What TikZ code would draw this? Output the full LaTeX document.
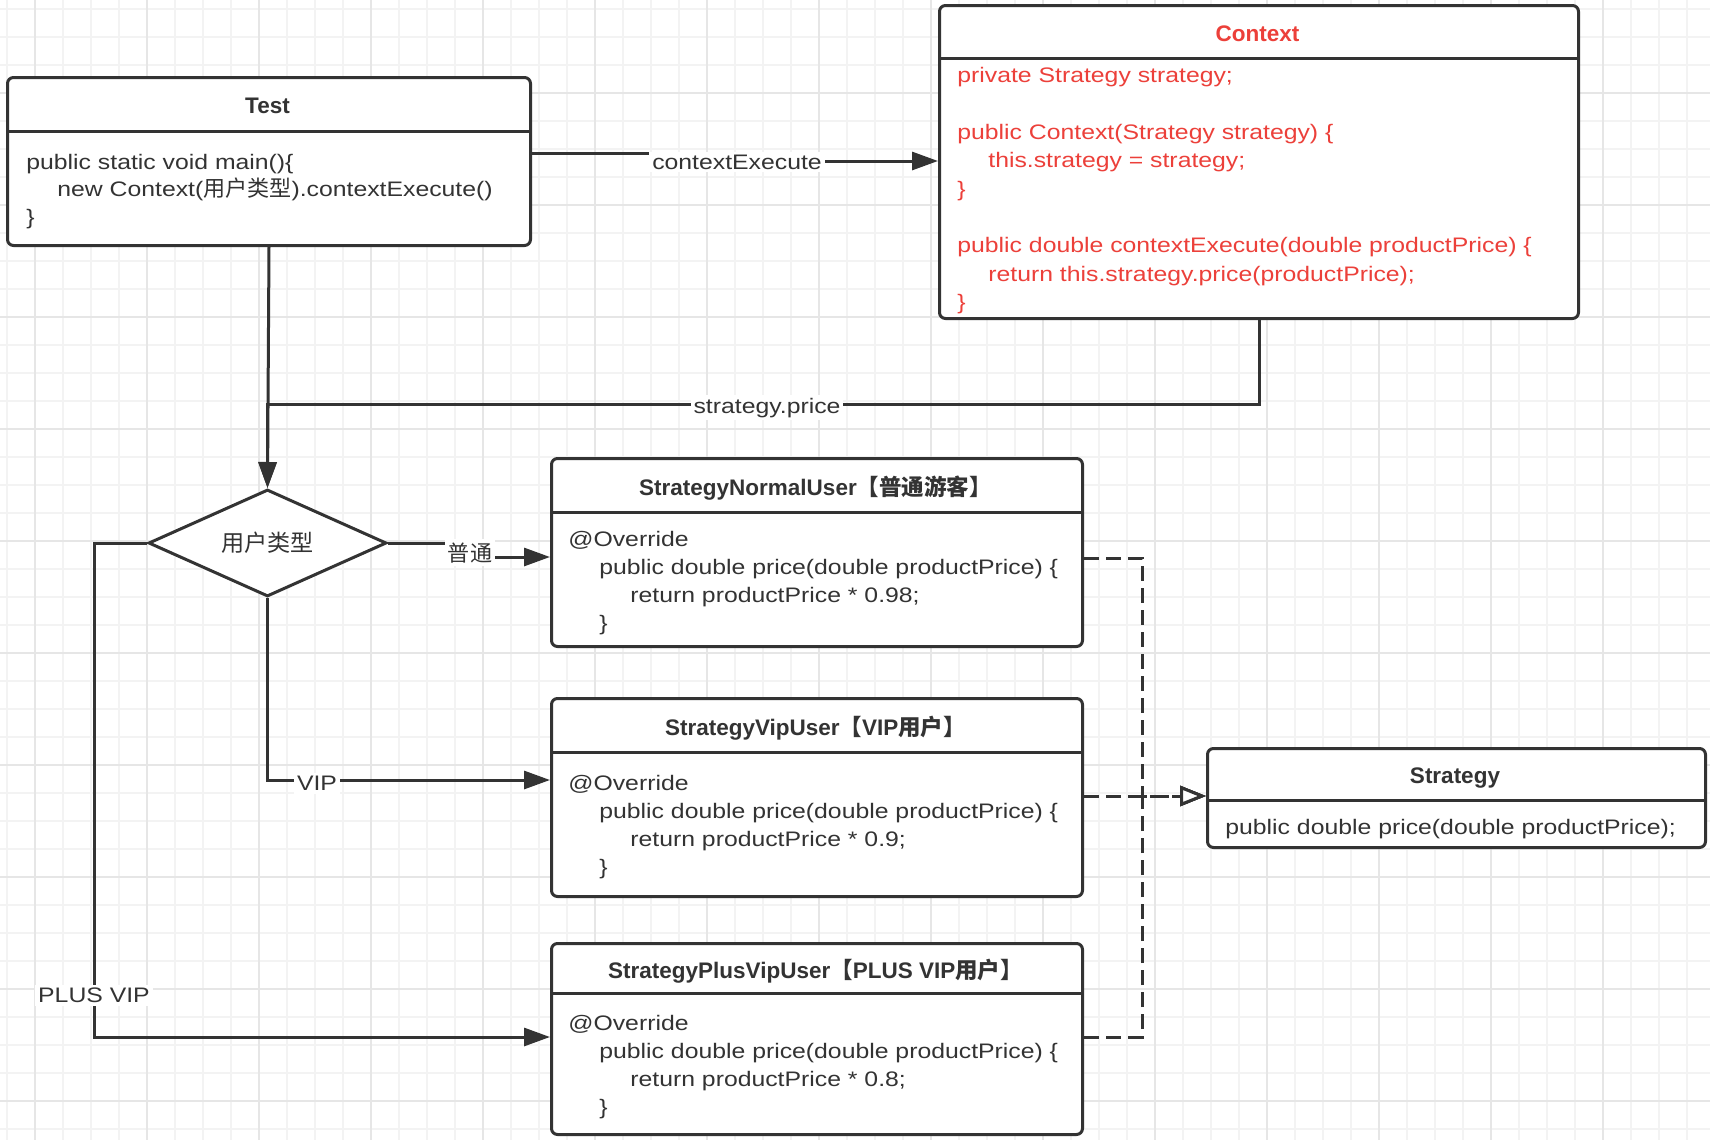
\documentclass[tikz,border=0pt]{standalone}
\usepackage{fontspec}
\setmainfont[FakeStretch=1.18]{Liberation Sans}
\newfontfamily\titlefont{Liberation Sans}
\newfontfamily\cjk[Scale=1.05]{Noto Sans CJK SC}
\newfontfamily\cjkt{Noto Sans CJK SC}
\usetikzlibrary{arrows.meta,shapes.geometric}
\newcommand{\zh}[1]{{\cjk #1}}
\newcommand{\zht}[1]{{\cjkt\bfseries #1}}
\definecolor{ink}{HTML}{333333}
\definecolor{redtxt}{HTML}{EC403A}
\definecolor{gridminor}{HTML}{F3F3F3}
\definecolor{gridmajor}{HTML}{E6E6E6}
\begin{document}
\begin{tikzpicture}[x=0.5pt,y=-0.5pt,
  gminor/.style={draw=gridminor, line width=0.6pt},
  gmajor/.style={draw=gridmajor, line width=0.7pt},
  box/.style={draw=ink, line width=1.5pt, fill=white, rounded corners=3pt, inner sep=0pt, anchor=north west},
  divline/.style={draw=ink, line width=1.5pt},
  title/.style={anchor=base, inner sep=0pt, text=ink, font=\titlefont\bfseries\fontsize{11.25pt}{13pt}\selectfont},
  body/.style={anchor=north west, inner sep=0pt, align=left, text=ink, font=\fontsize{10.5pt}{14pt}\selectfont},
  lbl/.style={anchor=base, fill=white, inner sep=1.5pt, text=ink, font=\fontsize{10.5pt}{13pt}\selectfont},
  decision/.style={diamond, draw=ink, line width=1.5pt, fill=white, minimum width=119pt, minimum height=53.5pt, aspect=2.22, inner sep=0pt, text=ink, font=\fontsize{11pt}{13pt}\selectfont},
  conn/.style={draw=ink, line width=1.5pt, -{Triangle[length=13pt,width=9pt]}},
  dconn/.style={draw=ink, line width=1.5pt, dash pattern=on 7.5pt off 3.5pt, -{Triangle[length=13pt,width=10pt,fill=white]}}
]
\useasboundingbox (0,0) rectangle (1710,1140);
\fill[white] (0,0) rectangle (1710,1140);
% grid
\foreach \i in {0,...,61} {\draw[gminor] ({7+28*\i},0) -- ({7+28*\i},1140);}
\foreach \i in {0,...,40} {\draw[gminor] (0,{9+28*\i}) -- (1710,{9+28*\i});}
\foreach \i in {0,...,15} {\draw[gmajor] ({35+112*\i},0) -- ({35+112*\i},1140);}
\foreach \i in {0,...,10} {\draw[gmajor] (0,{-19+112*\i}) -- (1710,{-19+112*\i});}

% Test
\node[box, minimum width=261.5pt, minimum height=84pt] (test) at (6,76) {};
\draw[divline] (6,131) -- (529,131);
\node[title] (testT) at (267.5,113) {Test};
\node[body, font=\fontsize{10.5pt}{13.75pt}\selectfont] (testB) at (26,149) {\rule{0pt}{10pt}public static void main()\{\\
\hspace*{15.5pt}new Context(\zh{用户类型}).contextExecute()\\
\}};

% Context
\node[box, minimum width=319.5pt, minimum height=156.5pt] (ctx) at (938,4) {};
\draw[divline] (938,58) -- (1577,58);
\node[title, text=redtxt] (ctxT) at (1257.5,41) {Context};
\node[body, text=redtxt, font=\fontsize{10.5pt}{14.2pt}\selectfont] (ctxB) at (957,62) {\rule{0pt}{10pt}private Strategy strategy;\\[14.2pt]
public Context(Strategy strategy) \{\\
\hspace*{15.5pt}this.strategy = strategy;\\
\}\\[14.2pt]
public double contextExecute(double productPrice) \{\\
\hspace*{15.5pt}return this.strategy.price(productPrice);\\
\}};

% StrategyNormalUser
\node[box, minimum width=265.5pt, minimum height=94pt] (normal) at (550,457) {};
\draw[divline] (550,512) -- (1081,512);
\node[title] (normalT) at (815.5,495) {StrategyNormalUser\zht{【普通游客】}};
\node[body] (normalB) at (568,526) {\rule{0pt}{10pt}@Override\\
\hspace*{15.5pt}public double price(double productPrice) \{\\
\hspace*{31pt}return productPrice * 0.98;\\
\hspace*{15.5pt}\}};

% StrategyVipUser
\node[box, minimum width=265.5pt, minimum height=99pt] (vip) at (550,697) {};
\draw[divline] (550,752) -- (1081,752);
\node[title] (vipT) at (815.5,735) {StrategyVipUser\zht{【}VIP\zht{用户】}};
\node[body] (vipB) at (568,770) {\rule{0pt}{10pt}@Override\\
\hspace*{15.5pt}public double price(double productPrice) \{\\
\hspace*{31pt}return productPrice * 0.9;\\
\hspace*{15.5pt}\}};

% StrategyPlusVipUser
\node[box, minimum width=265.5pt, minimum height=95.5pt] (plus) at (550,942) {};
\draw[divline] (550,993) -- (1081,993);
\node[title] (plusT) at (815.5,978) {StrategyPlusVipUser\zht{【}PLUS VIP\zht{用户】}};
\node[body] (plusB) at (568,1010) {\rule{0pt}{10pt}@Override\\
\hspace*{15.5pt}public double price(double productPrice) \{\\
\hspace*{31pt}return productPrice * 0.8;\\
\hspace*{15.5pt}\}};

% Strategy
\node[box, minimum width=249pt, minimum height=49.5pt] (strat) at (1206,747) {};
\draw[divline] (1206,800) -- (1704,800);
\node[title] (stratT) at (1455,783) {Strategy};
\node[body] (stratB) at (1225,814) {\rule{0pt}{10pt}public double price(double productPrice);};

% decision
\node[decision] (dia) at (267.5,543) {\zh{用户类型}};

% connectors
\coordinate (ce1) at (737,153);
\coordinate (ce2) at (737,161);
\draw[conn] (test.east |- ce1) -- (ce1) -- (ce2) -- (ctx.west |- ce2);
\node[lbl] (lce) at (737,169) {contextExecute};

\coordinate (sp) at (267.5,404);
\draw[conn] (ctx.south) -- (ctx.south |- sp) -- (sp) -- (dia.north);
\draw[conn] (test.south) -- (dia.north);
\node[lbl] (lsp) at (767,413) {strategy.price};

\coordinate (pt1) at (470,543);
\coordinate (pt2) at (470,557);
\draw[conn] (dia.east) -- (pt1) -- (pt2) -- (normal.west |- pt2);
\node[lbl] (lpt) at (470,561) {\zh{普通}};

\coordinate (v1) at (267.5,780);
\draw[conn] (dia.south) -- (v1) -- (vip.west |- v1);
\node[lbl] (lvip) at (317,790.5) {VIP};

\coordinate (p1) at (94,543);
\coordinate (p2) at (94,1037);
\draw[conn] (dia.west) -- (p1) -- (p2) -- (plus.west |- p2);
\node[lbl] (lplus) at (94,1002.5) {PLUS VIP};

% realization (dashed)
\coordinate (d1) at (1142,558);
\coordinate (d2) at (1142,796);
\coordinate (d3) at (1142,1037);
\draw[dconn] (normal.east |- d1) -- (d1) -- (d2) -- (strat.west |- d2);
\draw[dconn] (vip.east |- d2) -- (strat.west |- d2);
\draw[dconn] (plus.east |- d3) -- (d3) -- (d2) -- (strat.west |- d2);
\end{tikzpicture}
\end{document}
